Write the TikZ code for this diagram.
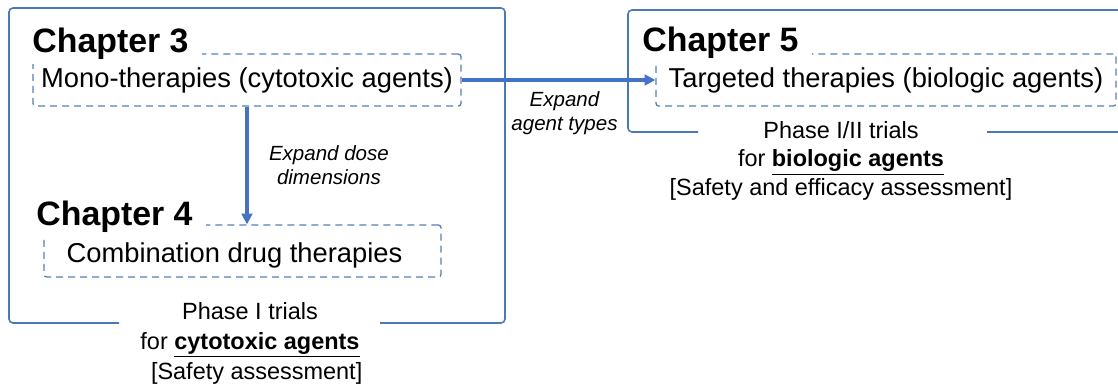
\documentclass[tikz,border=0pt]{standalone}
\usepackage{fontspec}
\setmainfont{Liberation Sans}
\usepackage{xcolor}
\usetikzlibrary{positioning, arrows.meta}
\definecolor{frameblue}{HTML}{4A7AB5}
\definecolor{dashblue}{HTML}{5580B5}
\definecolor{arrowblue}{HTML}{4472C4}

\begin{document}
\begin{tikzpicture}[x=0.75pt, y=-0.75pt,
    chapter/.style={font=\fontsize{25.4}{28}\selectfont\bfseries, fill=white, inner xsep=10pt, inner ysep=3pt, anchor=base},
    therapy/.style={draw=dashblue, line width=1pt, dash pattern=on 5.25pt off 3.75pt, rounded corners=2pt, font=\fontsize{20.5}{24}\selectfont, inner sep=0pt, minimum height=39pt},
    frame/.style={draw=frameblue, line width=1.2pt, rounded corners=3pt},
    expandarrow/.style={draw=arrowblue, line width=3pt, -{Triangle[length=8pt, width=8pt]}},
    note/.style={text=black, font=\fontsize{15.4}{18}\selectfont\itshape, align=center, inner sep=0pt},
    phase/.style={font=\fontsize{17.6}{22.5}\selectfont, align=center, inner sep=0pt}]
    \useasboundingbox (0,0) rectangle (1118,385);

    % Dashed therapy boxes
    \node[therapy, minimum width=321pt] (mono) at (247,80) {Mono-therapies (cytotoxic agents)};
    \node[therapy, minimum width=297.75pt] (combo) at (242.5,251) {\raisebox{-3.5pt}[\height][\depth]{Combination drug therapies}\hspace*{12pt}};
    \node[therapy, minimum width=345pt] (targ) at (886,80) {Targeted therapies (biologic agents)};

    % Chapter titles over the dashed boxes
    \node[chapter] (ch3) at (110.5,53) {Chapter 3};
    \node[chapter] (ch4) at (114.5,225) {Chapter 4};
    \node[chapter] (ch5) at (720.5,52) {Chapter 5};

    % Outer frames, open at the bottom for the trial text
    \draw[frame] (119,323) -- (9,323) -- (9,8) -- (505,8) -- (505,323) -- (380,323);
    \draw[frame] (698,132) -- (628,132) -- (628,10) -- (1120,10);
    \draw[frame] (987,132) -- (1120,132);

    % Trial phase text
    \node[phase, anchor=north] (ph1) at (250,302) {Phase I trials\\for \underline{\textbf{cytotoxic agents}}\\\hspace*{10pt}[Safety assessment]};
    \node[phase, anchor=north, font=\fontsize{17.6}{21.5}\selectfont] (ph2) at (841,121) {Phase I/II trials\\for \underline{\textbf{biologic agents}}\\{}[Safety and efficacy assessment]};

    % Arrows between chapters
    \draw[expandarrow] (mono.south) -- (mono.south |- combo.north) node[note, right=15pt, midway] (dose) {Expand dose\\dimensions};
    \draw[expandarrow] (mono.east) -- (targ.west) node[note, below=7.5pt, midway, xshift=4.5pt] (agent) {Expand\\agent types};
\end{tikzpicture}
\end{document}
